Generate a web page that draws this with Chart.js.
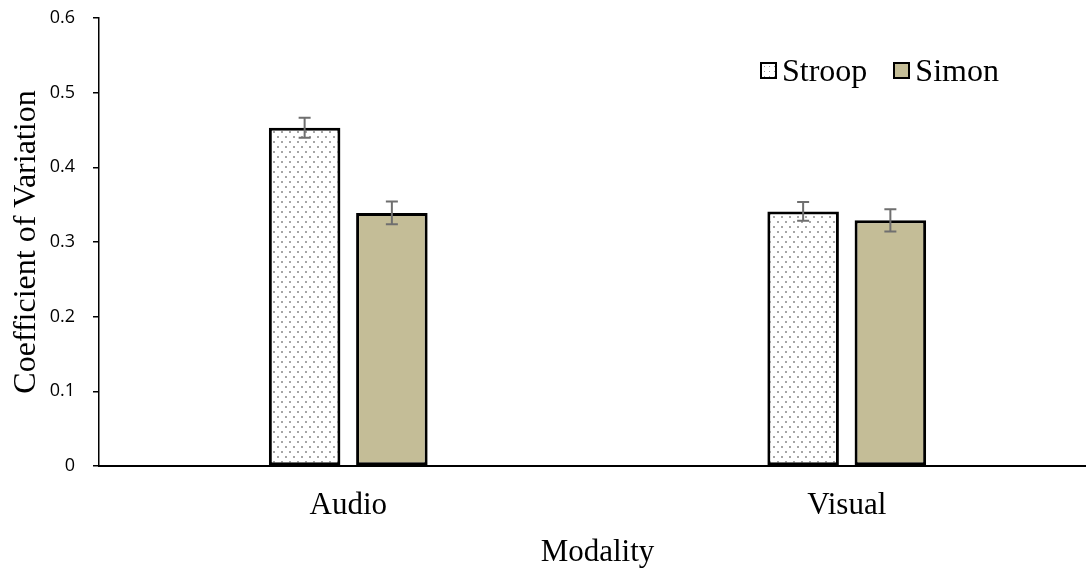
<!DOCTYPE html>
<html>
<head>
<meta charset="utf-8">
<script src="https://cdn.jsdelivr.net/npm/chart.js@4/dist/chart.umd.min.js"></script>
<style>
    body { margin: 0; background: #fff; }
    #wrap { position: relative; width: 1086px; height: 573px; }
    #legend {
        position: absolute; left: 760px; top: 52px;
        display: flex; align-items: center;
        font: 32px "Liberation Serif", "Times New Roman", serif; color: #000;
    }
    .item { display: flex; align-items: center; margin-right: 26px; }
    .box { width: 13px; height: 13px; border: 2px solid #000; margin-right: 5px; }
    .dots {
        background-color: #fff;
        background-image: radial-gradient(#999 0.8px, transparent 1px);
        background-size: 5px 5px;
    }
</style>
</head>
<body>
<div id="wrap">
    <canvas id="chart"></canvas>
    <div id="legend"></div>
</div>
<script>
// Data
const categories = ['Audio', 'Visual'];
const seriesNames = ['Stroop', 'Simon'];
const stroopValues = [0.453, 0.341];
const simonValues = [0.339, 0.329];
const stroopErrors = [0.0134, 0.0127];
const simonErrors = [0.0151, 0.0150];

const serif = "'Liberation Serif', 'Times New Roman', serif";

// Dotted fill for the Stroop bars
function makeDotPattern() {
    const c = document.createElement('canvas');
    c.width = 8;
    c.height = 10;
    const g = c.getContext('2d');
    g.fillStyle = '#ffffff';
    g.fillRect(0, 0, 8, 10);
    g.fillStyle = '#a6a6a6';
    g.fillRect(1, 1, 2, 2);
    g.fillRect(5, 6, 2, 2);
    return g.createPattern(c, 'repeat');
}

document.addEventListener('DOMContentLoaded', function() {
    const ctx = document.getElementById('chart').getContext('2d');
    const dots = makeDotPattern();

    // The category axis in the original runs a bit past the right edge
    const widenX = {
        id: 'widenX',
        afterLayout(chart) {
            const x = chart.scales.x;
            x.right = x.right + 10;
            x.width = x.right - x.left;
            x.configure();
        }
    };

    // Error bars drawn from the same scales as the bars
    const errorBars = {
        id: 'errorBars',
        afterDatasetsDraw(chart) {
            const c = chart.ctx;
            const y = chart.scales.y;
            c.save();
            c.strokeStyle = '#6f6f6f';
            c.lineWidth = 2;
            chart.data.datasets.forEach((ds, i) => {
                const meta = chart.getDatasetMeta(i);
                meta.data.forEach((bar, j) => {
                    const v = ds.data[j];
                    const e = ds.errors[j];
                    const top = y.getPixelForValue(v + e);
                    const bottom = y.getPixelForValue(v - e);
                    c.beginPath();
                    c.moveTo(bar.x, top);
                    c.lineTo(bar.x, bottom);
                    c.moveTo(bar.x - 6, top);
                    c.lineTo(bar.x + 6, top);
                    c.moveTo(bar.x - 6, bottom);
                    c.lineTo(bar.x + 6, bottom);
                    c.stroke();
                });
            });
            c.restore();
        }
    };

    const chart = new Chart(ctx, {
        type: 'bar',
        data: {
            labels: categories,
            datasets: [{
                label: seriesNames[0],
                data: stroopValues,
                errors: stroopErrors,
                backgroundColor: dots,
                borderColor: '#000',
                borderWidth: 3,
                borderSkipped: false,
                categoryPercentage: 0.35,
                barPercentage: 0.82
            },
            {
                label: seriesNames[1],
                data: simonValues,
                errors: simonErrors,
                backgroundColor: '#c4bd97',
                borderColor: '#000',
                borderWidth: 3,
                borderSkipped: false,
                categoryPercentage: 0.35,
                barPercentage: 0.82
            }]
        },
        options: {
            responsive: true,
            maintainAspectRatio: false,
            animation: false,
            layout: { padding: { top: 18, left: 0, right: 0, bottom: 0 } },
            plugins: {
                legend: { display: false },
                tooltip: { enabled: false }
            },
            scales: {
                x: {
                    grid: { drawOnChartArea: false, drawTicks: false },
                    border: { display: true, color: '#000', width: 2 },
                    ticks: {
                        color: '#000',
                        padding: 21,
                        maxRotation: 0,
                        font: { family: serif, size: 31 }
                    },
                    title: {
                        display: true,
                        text: 'Modality',
                        color: '#000',
                        padding: { top: 0, bottom: 2 },
                        font: { family: serif, size: 31 }
                    },
                    afterFit: scale => {
                        scale.height = 107;
                        scale.paddingLeft = 0;
                        scale.paddingRight = 0;
                    }
                },
                y: {
                    min: 0,
                    max: 0.6,
                    grid: { drawOnChartArea: false, drawTicks: true, tickLength: 6, color: '#000', lineWidth: 1.5 },
                    border: { display: true, color: '#000', width: 1.5 },
                    ticks: {
                        stepSize: 0.1,
                        color: '#000',
                        padding: 18,
                        font: { family: "'Open Sans', sans-serif", size: 18 }
                    },
                    title: {
                        display: true,
                        text: 'Coefficient of Variation',
                        color: '#000',
                        padding: { top: 7, bottom: 0 },
                        font: { family: serif, size: 32 }
                    },
                    afterFit: scale => {
                        scale.width = 99;
                        scale.paddingTop = 0;
                        scale.paddingBottom = 0;
                    }
                }
            }
        },
        plugins: [widenX, errorBars]
    });

    // Legend as plain HTML, built from the dataset names
    const legend = document.getElementById('legend');
    chart.data.datasets.forEach((ds, i) => {
        const item = document.createElement('div');
        item.className = 'item';
        const box = document.createElement('span');
        box.className = 'box' + (i === 0 ? ' dots' : '');
        if (i === 1) box.style.background = ds.backgroundColor;
        const txt = document.createElement('span');
        txt.textContent = ds.label;
        item.appendChild(box);
        item.appendChild(txt);
        legend.appendChild(item);
    });
});
</script>
</body>
</html>
